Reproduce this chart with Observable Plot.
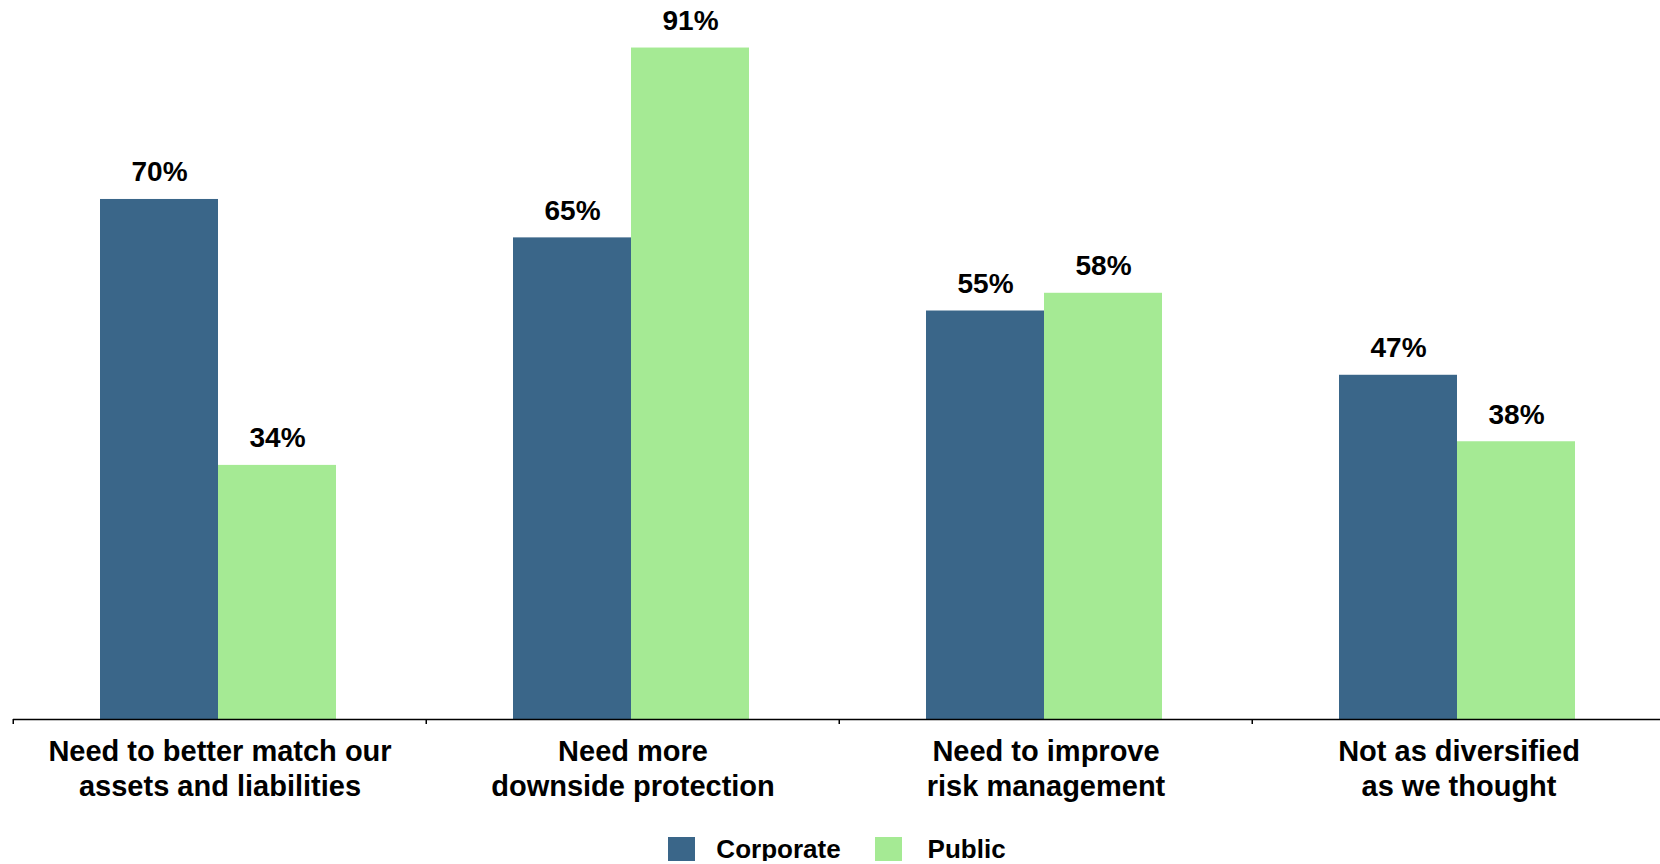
<!DOCTYPE html>
<html>
<head>
<meta charset="utf-8">
<script src="https://cdn.jsdelivr.net/npm/d3@7"></script>
<script src="https://cdn.jsdelivr.net/npm/@observablehq/plot@0.6"></script>
<style>
  html, body { margin: 0; padding: 0; background: #fff; overflow: hidden; }
  body { font-family: "Liberation Sans", Arial, sans-serif; font-weight: bold; color: #000; }
  #chart svg { display: block; font-weight: bold; }
  .legend { display: flex; justify-content: center; align-items: center; margin-top: 32px; padding-left: 14px; font-size: 26px; height: 24px; }
  .legend .sw { width: 27px; height: 24px; display: inline-block; }
  .legend .lab { line-height: 24px; }
</style>
</head>
<body>
<div id="chart"></div>
<script>
const categories = [
  "Need to better match our assets and liabilities",
  "Need more downside protection",
  "Need to improve risk management",
  "Not as diversified as we thought"
];
const categoryLines = [
  ["Need to better match our", "assets and liabilities"],
  ["Need more", "downside protection"],
  ["Need to improve", "risk management"],
  ["Not as diversified", "as we thought"]
];
const series = ["Corporate", "Public"];
// values (labels show them rounded)
const corporateValues = [70.4, 65.2, 55.3, 46.6];
const publicValues = [34.4, 90.9, 57.7, 37.6];
const seriesColors = ["#3a6689", "#a5ea94"];

const data = categories.flatMap((c, i) => [
  {category: c, series: "Corporate", value: corporateValues[i]},
  {category: c, series: "Public", value: publicValues[i]}
]);

const W = 1660, H = 805, mL = 12, mR = -6;
const step = (W - mL - mR) / categories.length;

const chart = Plot.plot({
  width: W,
  height: H,
  marginTop: 46.8,
  marginBottom: 86,
  marginLeft: mL,
  marginRight: mR,
  style: {fontFamily: "'Liberation Sans', Arial, sans-serif", fontWeight: "bold", color: "#000", background: "#fff"},
  fx: {domain: categories, padding: 0, label: null},
  x: {domain: series, paddingInner: 0, paddingOuter: 0.743, align: 0.49, axis: null},
  y: {domain: [0, 91], axis: null},
  color: {domain: series, range: seriesColors},
  marks: [
    Plot.barY(data, {fx: "category", x: "series", y: "value", fill: "series"}),
    Plot.ruleY([0], {stroke: "#000", strokeWidth: 1.5}),
    Plot.text(data, {fx: "category", x: "series", y: "value", text: d => Math.round(d.value) + "%", dy: -27, fontSize: 28, fontWeight: "bold", fill: "#000", lineAnchor: "middle"}),
    Plot.axisFx({anchor: "bottom", tickSize: 5, dx: -step / 2, tickFormat: () => "", label: null, stroke: "#000", strokeWidth: 1.5}),
    Plot.axisFx({anchor: "bottom", tickSize: 0, tickPadding: 17.4, fontSize: 29, lineHeight: 1.19, fontWeight: "bold", fill: "#000",
      tickFormat: d => categoryLines[categories.indexOf(d)].join("\n"), label: null})
  ]
});
document.getElementById("chart").appendChild(chart);

const legend = document.createElement("div");
legend.className = "legend";
series.forEach((s, i) => {
  const sw = document.createElement("span");
  sw.className = "sw";
  sw.style.background = seriesColors[i];
  const lab = document.createElement("span");
  lab.className = "lab";
  lab.textContent = s;
  lab.style.marginLeft = i === 0 ? "21px" : "26px";
  if (i === 0) lab.style.marginRight = "34px";
  legend.appendChild(sw);
  legend.appendChild(lab);
});
document.body.appendChild(legend);
</script>
</body>
</html>
